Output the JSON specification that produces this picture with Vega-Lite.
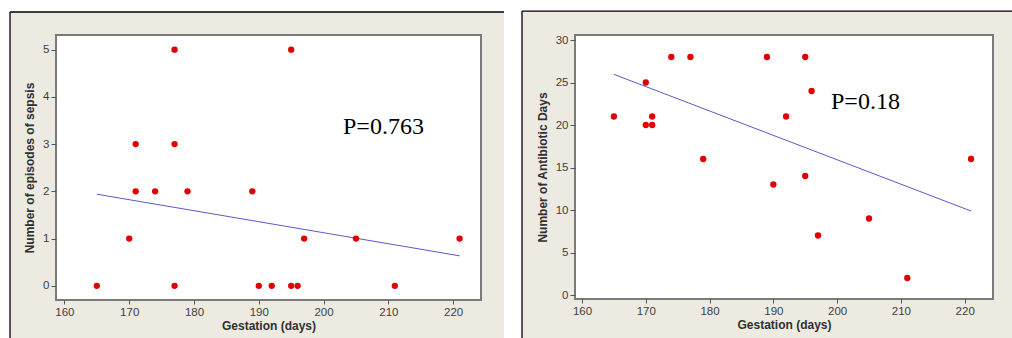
{
  "$schema": "https://vega.github.io/schema/vega-lite/v6.json",
  "background": "white",
  "padding": {"left": 9, "top": 10, "right": 0, "bottom": 0},
  "spacing": 16,
  "config": {
    "view": {"stroke": null, "fill": null},
    "axis": {
      "domain": false, "grid": false, "ticks": true, "tickSize": 4, "tickColor": "#555555",
      "labelColor": "#404040", "labelFont": "Liberation Sans", "labelFontSize": 11.5,
      "titleFont": "Liberation Sans", "titleFontSize": 12, "titleFontWeight": "bold", "titleColor": "#303030",
      "labelPadding": 2
    }
  },
  "datasets": {
    "sepsis": [
      {"gestation": 165, "episodes": 0}, {"gestation": 170, "episodes": 1}, {"gestation": 171, "episodes": 3},
      {"gestation": 171, "episodes": 2}, {"gestation": 174, "episodes": 2}, {"gestation": 177, "episodes": 5},
      {"gestation": 177, "episodes": 3}, {"gestation": 177, "episodes": 0}, {"gestation": 179, "episodes": 2},
      {"gestation": 189, "episodes": 2}, {"gestation": 190, "episodes": 0}, {"gestation": 192, "episodes": 0},
      {"gestation": 195, "episodes": 5}, {"gestation": 195, "episodes": 0}, {"gestation": 196, "episodes": 0},
      {"gestation": 197, "episodes": 1}, {"gestation": 205, "episodes": 1}, {"gestation": 211, "episodes": 0},
      {"gestation": 221, "episodes": 1}
    ],
    "antibiotic": [
      {"gestation": 165, "days": 21}, {"gestation": 170, "days": 25}, {"gestation": 170, "days": 20},
      {"gestation": 171, "days": 21}, {"gestation": 171, "days": 20}, {"gestation": 174, "days": 28},
      {"gestation": 177, "days": 28}, {"gestation": 179, "days": 16}, {"gestation": 189, "days": 28},
      {"gestation": 190, "days": 13}, {"gestation": 192, "days": 21}, {"gestation": 195, "days": 28},
      {"gestation": 195, "days": 14}, {"gestation": 196, "days": 24}, {"gestation": 197, "days": 7},
      {"gestation": 205, "days": 9}, {"gestation": 211, "days": 2}, {"gestation": 221, "days": 16}
    ],
    "fitSepsis": [{"gestation": 165, "fit": 1.94}, {"gestation": 221, "fit": 0.635}],
    "fitAntibiotic": [{"gestation": 165, "fit": 25.96}, {"gestation": 221, "fit": 9.88}]
  },
  "hconcat": [
    {
      "width": 425,
      "height": 265,
      "layer": [
        {
          "data": {"values": [{}]},
          "mark": {"type": "rect", "fill": "#EDEAE2", "clip": false},
          "encoding": {
            "x": {"datum": 151.6, "type": "quantitative"}, "x2": {"datum": 227.85},
            "y": {"datum": 5.797, "type": "quantitative"}, "y2": {"datum": -1.14}
          }
        },
        {
          "data": {"values": [{}]},
          "mark": {"type": "rule", "color": "#000000", "strokeWidth": 1.3, "clip": false},
          "encoding": {
            "x": {"datum": 151.6, "type": "quantitative"}, "x2": {"datum": 227.85},
            "y": {"datum": 5.797, "type": "quantitative"}
          }
        },
        {
          "data": {"values": [{}]},
          "mark": {"type": "rule", "color": "#000000", "strokeWidth": 1.3, "clip": false},
          "encoding": {
            "x": {"datum": 151.6, "type": "quantitative"},
            "y": {"datum": 5.797, "type": "quantitative"}, "y2": {"datum": -1.14}
          }
        },
        {
          "data": {"values": [{}]},
          "mark": {"type": "rect", "fill": "white", "stroke": "#7A7A7A", "strokeWidth": 2, "clip": false},
          "encoding": {
            "x": {"datum": 158.7, "type": "quantitative"}, "x2": {"datum": 224.3},
            "y": {"datum": 5.31, "type": "quantitative"}, "y2": {"datum": -0.3}
          }
        },
        {
          "data": {"name": "fitSepsis"},
          "mark": {"type": "line", "color": "#5A5AC8", "strokeWidth": 1},
          "encoding": {
            "x": {"field": "gestation", "type": "quantitative"},
            "y": {"field": "fit", "type": "quantitative"}
          }
        },
        {
          "data": {"name": "sepsis"},
          "mark": {"type": "circle", "color": "#E00000", "opacity": 1, "size": 40},
          "encoding": {
            "x": {
              "field": "gestation", "type": "quantitative",
              "scale": {"domain": [158.7, 224.3], "nice": false, "zero": false},
              "axis": {"title": "Gestation (days)", "values": [160, 170, 180, 190, 200, 210, 220], "titlePadding": 3, "zindex": 2}
            },
            "y": {
              "field": "episodes", "type": "quantitative",
              "scale": {"domain": [-0.3, 5.31], "nice": false, "zero": false},
              "axis": {"title": "Number of episodes of sepsis", "values": [0, 1, 2, 3, 4, 5], "tickSize": 5, "titlePadding": 6, "zindex": 2}
            }
          }
        },
        {
          "data": {"values": [{"label": "P=0.763"}]},
          "mark": {"type": "text", "font": "Liberation Serif", "fontSize": 24, "color": "black", "align": "left", "baseline": "alphabetic"},
          "encoding": {
            "x": {"datum": 203.0, "type": "quantitative"},
            "y": {"datum": 3.214, "type": "quantitative"},
            "text": {"field": "label"}
          }
        }
      ]
    },
    {
      "width": 418,
      "height": 264,
      "layer": [
        {
          "data": {"values": [{}]},
          "mark": {"type": "rect", "fill": "#EDEAE2", "clip": false},
          "encoding": {
            "x": {"datum": 150.59, "type": "quantitative"}, "x2": {"datum": 227.85},
            "y": {"datum": 33.41, "type": "quantitative"}, "y2": {"datum": -5.16}
          }
        },
        {
          "data": {"values": [{}]},
          "mark": {"type": "rule", "color": "#000000", "strokeWidth": 1.3, "clip": false},
          "encoding": {
            "x": {"datum": 150.59, "type": "quantitative"}, "x2": {"datum": 227.85},
            "y": {"datum": 33.41, "type": "quantitative"}
          }
        },
        {
          "data": {"values": [{}]},
          "mark": {"type": "rule", "color": "#000000", "strokeWidth": 1.3, "clip": false},
          "encoding": {
            "x": {"datum": 150.59, "type": "quantitative"},
            "y": {"datum": 33.41, "type": "quantitative"}, "y2": {"datum": -5.16}
          }
        },
        {
          "data": {"values": [{}]},
          "mark": {"type": "rect", "fill": "white", "stroke": "#7A7A7A", "strokeWidth": 2, "clip": false},
          "encoding": {
            "x": {"datum": 158.9, "type": "quantitative"}, "x2": {"datum": 224.44},
            "y": {"datum": 30.59, "type": "quantitative"}, "y2": {"datum": -0.47}
          }
        },
        {
          "data": {"name": "fitAntibiotic"},
          "mark": {"type": "line", "color": "#5A5AC8", "strokeWidth": 1},
          "encoding": {
            "x": {"field": "gestation", "type": "quantitative"},
            "y": {"field": "fit", "type": "quantitative"}
          }
        },
        {
          "data": {"name": "antibiotic"},
          "mark": {"type": "circle", "color": "#E00000", "opacity": 1, "size": 40},
          "encoding": {
            "x": {
              "field": "gestation", "type": "quantitative",
              "scale": {"domain": [158.9, 224.44], "nice": false, "zero": false},
              "axis": {"title": "Gestation (days)", "values": [160, 170, 180, 190, 200, 210, 220], "titlePadding": 3, "zindex": 2}
            },
            "y": {
              "field": "days", "type": "quantitative",
              "scale": {"domain": [-0.47, 30.59], "nice": false, "zero": false},
              "axis": {"title": "Number of Antibiotic Days", "values": [0, 5, 10, 15, 20, 25, 30], "tickSize": 5, "titlePadding": 6, "zindex": 2}
            }
          }
        },
        {
          "data": {"values": [{"label": "P=0.18"}]},
          "mark": {"type": "text", "font": "Liberation Serif", "fontSize": 24, "color": "black", "align": "left", "baseline": "alphabetic"},
          "encoding": {
            "x": {"datum": 199.04, "type": "quantitative"},
            "y": {"datum": 21.88, "type": "quantitative"},
            "text": {"field": "label"}
          }
        }
      ]
    }
  ]
}
